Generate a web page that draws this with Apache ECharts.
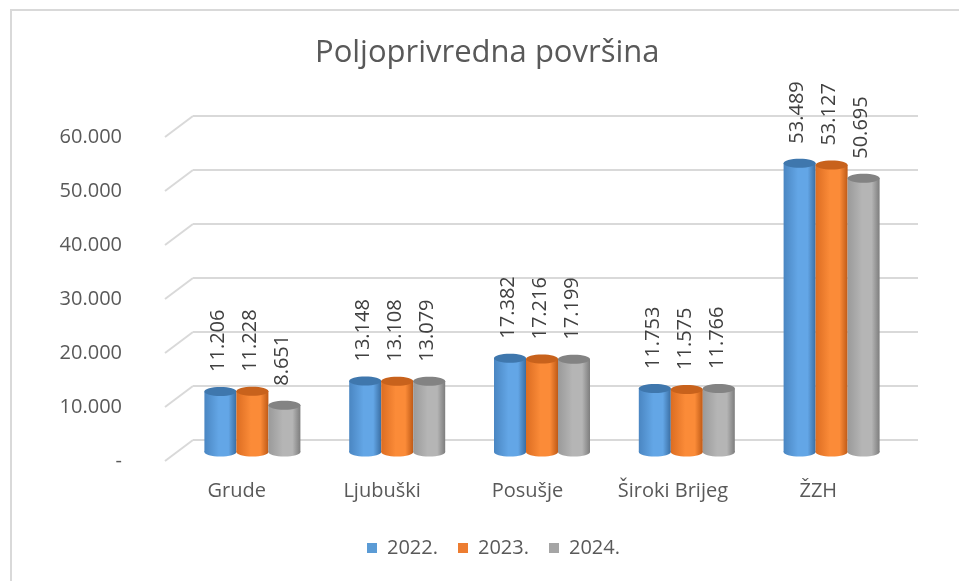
<!DOCTYPE html>
<html>
<head>
<meta charset="UTF-8"/>
<title>Poljoprivredna površina</title>
<script src="https://cdn.jsdelivr.net/npm/echarts@6/dist/echarts.min.js"></script>
<style>
  html, body { margin: 0; padding: 0; background: #fff; }
  #chart { width: 959px; height: 581px; }
</style>
</head>
<body>
<div id="chart"></div>
<script>
// podaci
var categories = ['Grude', 'Ljubuški', 'Posušje', 'Široki Brijeg', 'ŽZH'];
var years = ['2022.', '2023.', '2024.'];
var data2022 = [11206, 13148, 17382, 11753, 53489];
var data2023 = [11228, 13108, 17216, 11575, 53127];
var data2024 = [8651, 13079, 17199, 11766, 50695];
var yTicks = [0, 10000, 20000, 30000, 40000, 50000, 60000];

// boje cilindara: lijevo, sredina, desno, vrh
var palette = [
    { base: '#5b9bd5', left: '#4a86c2', mid: '#63a6e6', right: '#3a6ea3', top: '#3f77ad' },
    { base: '#ed7d31', left: '#dc6d22', mid: '#fb8b38', right: '#bf5a16', top: '#c8621c' },
    { base: '#a5a5a5', left: '#9a9a9a', mid: '#b5b5b5', right: '#7d7d7d', top: '#838383' }
];

var FONT = 'Open Sans';

function fmt(v) {
    if (v === 0) return '-';
    return String(v).replace(/\B(?=(\d{3})+(?!\d))/g, '.');
}

function cylinder(idx) {
    var c = palette[idx];
    return function (params, api) {
        var val = api.value(1);
        var top = api.coord([api.value(0), val]);
        var base = api.coord([api.value(0), 0]);
        var w = 32, rx = w / 2, ry = 4.5;
        var cx = top[0] + (idx - 1) * w;
        var body = new echarts.graphic.LinearGradient(0, 0, 1, 0, [
            { offset: 0, color: c.left },
            { offset: 0.45, color: c.mid },
            { offset: 0.75, color: c.mid },
            { offset: 1, color: c.right }
        ]);
        return {
            type: 'group',
            children: [
                { type: 'ellipse', shape: { cx: cx, cy: base[1], rx: rx, ry: ry }, style: { fill: body } },
                { type: 'rect', shape: { x: cx - rx, y: top[1], width: w, height: base[1] - top[1] }, style: { fill: body } },
                { type: 'ellipse', shape: { cx: cx, cy: top[1], rx: rx, ry: ry }, style: { fill: c.top } },
                {
                    type: 'text', x: cx - 2, y: top[1] - ry - 15, rotation: Math.PI / 2,
                    style: {
                        text: fmt(val), align: 'left', verticalAlign: 'middle',
                        fill: '#404040', font: '20px "' + FONT + '", sans-serif'
                    }
                }
            ]
        };
    };
}

var chart = echarts.init(document.getElementById('chart'));
var seriesData = [data2022, data2023, data2024];
var series = seriesData.map(function (arr, i) {
    return {
        name: years[i],
        type: 'custom',
        xAxisIndex: 2,
        yAxisIndex: 2,
        itemStyle: { color: palette[i].base },
        renderItem: cylinder(i),
        data: arr.map(function (v, j) { return [j, v]; }),
        z: 5
    };
});

var yBase = { type: 'value', min: 0, max: 60000, interval: 10000 };

chart.setOption({
    animation: false,
    title: {
        text: 'Poljoprivredna površina',
        left: 310, top: 33,
        textStyle: { fontFamily: FONT, fontSize: 31, fontWeight: 'normal', color: '#595959' }
    },
    legend: {
        bottom: 18, left: 362,
        icon: 'rect', itemWidth: 10, itemHeight: 10, itemGap: 20,
        textStyle: { fontFamily: FONT, fontSize: 20, color: '#595959', padding: [0, 0, 0, 5] },
        data: years
    },
    grid: [
        { left: 164, right: 68, top: 137, bottom: 120 },
        { left: 193, right: 41, top: 116, bottom: 141 },
        { left: 180, right: 55, top: 128, bottom: 129 }
    ],
    xAxis: [
        {
            type: 'category', gridIndex: 0, data: categories,
            axisLine: { show: false }, axisTick: { show: false },
            axisLabel: { margin: 20, fontFamily: FONT, fontSize: 20, color: '#595959' }
        },
        { type: 'category', gridIndex: 1, data: categories, show: false },
        { type: 'category', gridIndex: 2, data: categories, show: false }
    ],
    yAxis: [
        Object.assign({}, yBase, {
            gridIndex: 0,
            axisLine: { show: false }, axisTick: { show: false }, splitLine: { show: false },
            axisLabel: { margin: 42, formatter: fmt, fontFamily: FONT, fontSize: 20, color: '#595959' }
        }),
        Object.assign({}, yBase, {
            gridIndex: 1,
            axisLine: { show: false }, axisTick: { show: false }, axisLabel: { show: false },
            splitLine: { show: true, lineStyle: { color: '#d9d9d9', width: 2 } }
        }),
        Object.assign({}, yBase, { gridIndex: 2, show: false })
    ],
    series: series
});

// kose linije mreže (perspektiva) od prednje do stražnje ravnine
var slants = yTicks.map(function (v) {
    var yf = chart.convertToPixel({ yAxisIndex: 0 }, v);
    var yb = chart.convertToPixel({ yAxisIndex: 1 }, v);
    return {
        type: 'line', silent: true,
        shape: { x1: 165, y1: yf, x2: 193, y2: yb },
        style: { stroke: '#d9d9d9', lineWidth: 2 }
    };
});
chart.setOption({
    graphic: [{
        type: 'rect', silent: true,
        shape: { x: 11, y: 10, width: 1000, height: 1000 },
        style: { fill: 'none', stroke: '#d9d9d9', lineWidth: 2 }
    }].concat(slants)
});
</script>
</body>
</html>
